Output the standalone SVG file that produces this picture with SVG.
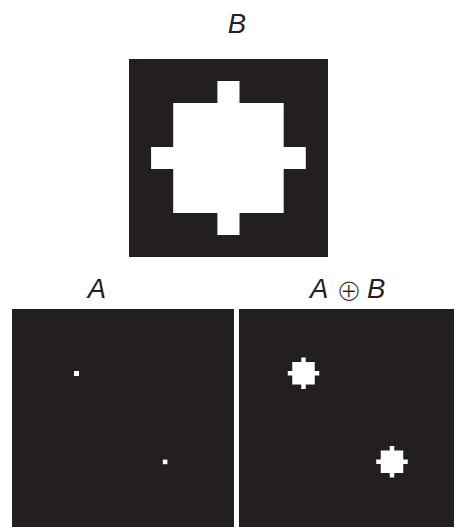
<svg xmlns="http://www.w3.org/2000/svg" xmlns:xlink="http://www.w3.org/1999/xlink" width="455" height="527" viewBox="0 0 455 527">
  <style>
    .bg { fill: #231f20; }
    .fg { fill: #ffffff; }
    .lbl { font-family: "Liberation Sans", Arial, sans-serif; font-size: 27.5px; font-style: italic; fill: #231f20; }
    .op { font-family: "DejaVu Sans", sans-serif; font-size: 31px; fill: #231f20; stroke: #ffffff; stroke-width: 1px; }
  </style>
  <defs>
    <path id="se" class="fg" d="M-0.5,-3.5 H0.5 V-2.5 H2.5 V-0.5 H3.5 V0.5 H2.5 V2.5 H0.5 V3.5 H-0.5 V2.5 H-2.5 V0.5 H-3.5 V-0.5 H-2.5 V-2.5 H-0.5 Z"/>
  </defs>
  <rect width="455" height="527" fill="#ffffff"/>

  <g id="panelB">
    <text class="lbl" x="237" y="33" text-anchor="middle">B</text>
    <rect class="bg" x="129" y="59" width="199" height="198"/>
    <use xlink:href="#se" href="#se" transform="translate(228.45,157.9) scale(22.1,22)"/>
  </g>

  <g id="panelA">
    <text class="lbl" x="97" y="298" text-anchor="middle">A</text>
    <rect class="bg" x="12" y="309" width="222" height="218"/>
    <rect class="fg" x="74" y="371" width="5" height="5"/>
    <rect class="fg" x="162.8" y="459.6" width="4.6" height="4.6"/>
  </g>

  <g id="panelAB">
    <text class="lbl" x="310" y="298">A</text>
    <text class="op" x="349" y="301" text-anchor="middle">⊕</text>
    <text class="lbl" x="367" y="298">B</text>
    <rect class="bg" x="239" y="309" width="215" height="218"/>
    <use xlink:href="#se" href="#se" transform="translate(303.5,373.3) scale(4.5,4.5)"/>
    <use xlink:href="#se" href="#se" transform="translate(392,461.8) scale(4.5,4.5)"/>
  </g>
</svg>
